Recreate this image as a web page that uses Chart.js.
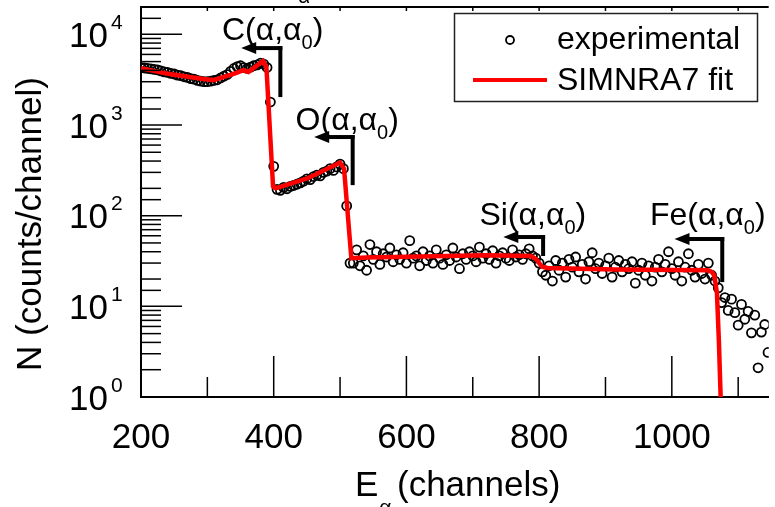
<!DOCTYPE html>
<html>
<head>
<meta charset="utf-8">
<script src="https://cdn.jsdelivr.net/npm/chart.js@4.4.0/dist/chart.umd.min.js"></script>
<style>
  body { margin: 0; background: #fff; }
  #spectrum { display: block; }
</style>
</head>
<body>
<canvas id="spectrum" width="775" height="507"></canvas>
<script>
// RBS spectrum, experimental counts vs SIMNRA7 fit

// experimental points (channel, counts)
const expChannels = [
  200, 205, 210, 215, 220, 225, 230, 235, 240, 245,
  250, 255, 260, 265, 270, 275, 280, 285, 290, 295,
  300, 305, 310, 315, 320, 325, 330, 335, 340, 345,
  350, 355, 360, 365, 370, 375, 380, 385, 390, 395,
  400, 405, 410, 415, 420, 425, 430, 435, 440, 445,
  450, 455, 460, 465, 470, 475, 480, 485, 490, 495,
  500, 505, 510, 515, 520, 525, 530, 535, 540, 545,
  550, 555, 560, 565, 570, 575, 580, 585, 590, 595,
  600, 605, 610, 615, 620, 625, 630, 635, 640, 645,
  650, 655, 660, 665, 670, 675, 680, 685, 690, 695,
  700, 705, 710, 715, 720, 725, 730, 735, 740, 745,
  750, 755, 760, 765, 770, 775, 780, 785, 790, 795,
  800, 805, 810, 815, 820, 825, 830, 835, 840, 845,
  850, 855, 860, 865, 870, 875, 880, 885, 890, 895,
  900, 905, 910, 915, 920, 925, 930, 935, 940, 945,
  950, 955, 960, 965, 970, 975, 980, 985, 990, 995,
  1000, 1005, 1010, 1015, 1020, 1025, 1030, 1035, 1040, 1045,
  1050, 1055, 1060, 1065, 1070, 1075, 1080, 1085, 1090, 1095,
  1100, 1105, 1110, 1115, 1120, 1125, 1130, 1135, 1140, 1145
];
const expCounts = [
  4300, 4250, 4200, 4150, 4100, 4050, 3950, 3850, 3800, 3700,
  3650, 3550, 3500, 3400, 3350, 3250, 3200, 3100, 3050, 3000,
  3000, 3050, 3100, 3150, 3300, 3450, 3600, 3900, 4200, 4400,
  4500, 4300, 4200, 4350, 4500, 4600, 4800, 4700, 4300, 1790,
  350, 195, 190, 205, 198, 210, 215, 222, 230, 240,
  255, 250, 270, 280, 275, 300, 310, 330, 315, 345,
  370, 330, 128, 30, 30, 42, 28, 36, 25, 48,
  33, 40, 29, 38, 35, 44, 31, 37, 33, 39,
  30, 53, 34, 36, 28, 40, 32, 36, 30, 42,
  34, 29, 37, 32, 44, 35, 26, 38, 33, 40,
  36, 31, 45, 34, 38, 33, 41, 30, 36, 39,
  34, 32, 42, 35, 37, 33, 38, 43, 36, 34,
  30, 24, 22, 28, 19, 32, 25, 30, 21, 33,
  27, 35, 24, 29, 20, 31, 39, 26, 30, 23,
  28, 34, 21, 27, 32, 24, 29, 26, 31, 18,
  25, 30, 22, 28, 19, 27, 33, 24, 29, 40,
  26, 22, 31, 19, 27, 38, 25, 21, 29, 23,
  20, 30, 22, 19, 16, 11, 12.5, 9, 12, 8.5,
  6.2, 10.5, 7.2, 8.8, 5.1, 8, 2.1, 5.2, 6.3, 3.1
];

// simulated spectrum
const fitChannels = [200, 243, 294, 309, 343, 354, 362, 384, 389, 399, 403, 452, 500, 506, 517, 540, 720, 788, 796, 804, 812, 915, 1054, 1060, 1064, 1068, 1071, 1074];
const fitCounts = [4240, 3640, 3210, 3125, 3735, 4030, 3850, 5070, 4350, 210, 200, 260, 385, 330, 34, 34.5, 36.5, 36, 33, 27.5, 26.5, 25.5, 25, 24, 22, 14, 4, 0.8];

const xTickLabels = ['200', '400', '600', '800', '1000'];
const yDecades = [1, 10, 100, 1000, 10000];

// surface edges: element, edge channel, arrow tip channel, arrow top/bottom counts, label anchor
const edges = [
  { el: 'C',  ch: 410,  tip: 351,  top: 7045, bottom: 2030, labelCh: 322, labelN: 10850 },
  { el: 'O',  ch: 519,  tip: 461,  top: 736,  bottom: 217,  labelCh: 433, labelN: 1104 },
  { el: 'Si', ch: 806,  tip: 746,  top: 58.1, bottom: 35.9, labelCh: 710, labelN: 99 },
  { el: 'Fe', ch: 1076, tip: 1004, top: 55.2, bottom: 18.5, labelCh: 967, labelN: 99 }
];

const FONT = '"Liberation Sans", Arial, sans-serif';

function seg(ctx, x1, y1, x2, y2) {
  ctx.beginPath();
  ctx.moveTo(x1, y1);
  ctx.lineTo(x2, y2);
  ctx.stroke();
}

const extras = {
  id: 'extras',
  afterDraw(chart) {
    const { ctx, chartArea: a, scales: { x, y } } = chart;
    ctx.save();
    ctx.strokeStyle = '#000';
    ctx.fillStyle = '#000';

    // top frame line
    ctx.lineWidth = 2;
    seg(ctx, a.left, a.top, a.right, a.top);

    // x ticks, inside
    ctx.lineWidth = 1.5;
    for (let v = 200; v <= 1100; v += 100) {
      const px = x.getPixelForValue(v);
      const len = v % 200 === 0 ? 41 : 20;
      seg(ctx, px, a.bottom, px, a.bottom - len);
      seg(ctx, px, a.top, px, a.top + 4);
    }

    // y ticks, inside
    y.ticks.forEach(t => {
      const py = y.getPixelForValue(t.value);
      if (py < a.top + 1) return;
      const major = yDecades.includes(t.value);
      seg(ctx, a.left, py, a.left + (major ? 41 : 20), py);
    });

    // y labels 10^n
    yDecades.forEach(v => {
      const py = y.getPixelForValue(v);
      ctx.textBaseline = 'middle';
      ctx.textAlign = 'right';
      ctx.font = '35px ' + FONT;
      ctx.fillText('10', 108, py + 3);
      ctx.textAlign = 'left';
      ctx.font = '21px ' + FONT;
      ctx.fillText(String(Math.round(Math.log10(v))), 111, py - 11);
    });

    // axis titles
    ctx.save();
    ctx.translate(31, 224);
    ctx.rotate(-Math.PI / 2);
    ctx.textAlign = 'center';
    ctx.textBaseline = 'middle';
    ctx.font = '35px ' + FONT;
    ctx.fillText('N (counts/channel)', 0, 0);
    ctx.restore();

    ctx.textAlign = 'left';
    ctx.textBaseline = 'middle';
    ctx.font = '35px ' + FONT;
    ctx.fillText('E', 355, 486);
    const w = ctx.measureText('E').width;
    ctx.font = '21px ' + FONT;
    ctx.fillText('\u03b1', 355 + w + 1, 508);
    ctx.fillText('\u03b1', 298, -3);
    ctx.font = '35px ' + FONT;
    ctx.fillText('(channels)', 397, 486);

    // edge markers
    edges.forEach(e => {
      const vx = x.getPixelForValue(e.ch);
      const ty = y.getPixelForValue(e.top);
      const by = y.getPixelForValue(e.bottom);
      const tx = x.getPixelForValue(e.tip);
      ctx.lineWidth = 4;
      seg(ctx, vx, ty - 2, vx, by);
      seg(ctx, vx + 2, ty, tx + 12, ty);
      ctx.beginPath();
      ctx.moveTo(tx, ty);
      ctx.lineTo(tx + 15, ty - 6);
      ctx.lineTo(tx + 15, ty + 6);
      ctx.closePath();
      ctx.fill();

      let lx = x.getPixelForValue(e.labelCh);
      const ly = y.getPixelForValue(e.labelN);
      ctx.textAlign = 'left';
      ctx.textBaseline = 'middle';
      ctx.font = '32px ' + FONT;
      const head = e.el + '(\u03b1,\u03b1';
      ctx.fillText(head, lx, ly);
      lx += ctx.measureText(head).width;
      ctx.font = '20px ' + FONT;
      ctx.fillText('0', lx, ly + 12);
      lx += ctx.measureText('0').width;
      ctx.font = '32px ' + FONT;
      ctx.fillText(')', lx, ly);
    });

    // legend box
    ctx.lineWidth = 1.5;
    ctx.strokeStyle = '#222';
    ctx.strokeRect(454.5, 13.5, 303, 88);
    ctx.strokeStyle = '#000';
    ctx.lineWidth = 1.8;
    ctx.beginPath();
    ctx.arc(510, 40, 4, 0, Math.PI * 2);
    ctx.stroke();
    ctx.strokeStyle = '#ff0000';
    ctx.lineWidth = 4;
    seg(ctx, 473, 80, 547, 80);
    ctx.font = '32px ' + FONT;
    ctx.textBaseline = 'middle';
    ctx.fillText('experimental', 557, 40);
    ctx.fillText('SIMNRA7 fit', 557, 81);

    ctx.restore();
  }
};

new Chart(document.getElementById('spectrum'), {
  type: 'scatter',
  data: {
    datasets: [{
      label: 'SIMNRA7 fit',
      type: 'line',
      data: fitChannels.map((c, i) => ({ x: c, y: fitCounts[i] })),
      borderColor: '#ff0000',
      borderWidth: 4.5,
      pointRadius: 0,
      tension: 0,
      fill: false,
      order: 0
    }, {
      label: 'experimental',
      data: expChannels.map((c, i) => ({ x: c, y: expCounts[i] })),
      pointRadius: 4.5,
      pointBorderWidth: 1.8,
      borderColor: '#000',
      backgroundColor: 'rgba(0,0,0,0)',
      order: 1
    }]
  },
  options: {
    responsive: false,
    animation: false,
    layout: { padding: { top: 7, right: 0, left: 0, bottom: 0 } },
    plugins: { legend: { display: false }, tooltip: { enabled: false } },
    scales: {
      x: {
        type: 'linear',
        min: 200,
        max: 1146,
        afterBuildTicks: s => { s.ticks = xTickLabels.map(l => ({ value: Number(l) })); },
        afterFit: s => { s.height = 110; },
        grid: { display: false, drawTicks: false },
        border: { display: true, color: '#000', width: 2 },
        ticks: {
          color: '#000', padding: 20, maxRotation: 0, autoSkip: false,
          font: { family: FONT, size: 35 },
          callback: v => String(v)
        }
      },
      y: {
        type: 'logarithmic',
        min: 1,
        max: 20000,
        afterFit: s => { s.width = 141; },
        grid: { display: false, drawTicks: false },
        border: { display: true, color: '#000', width: 2 },
        ticks: { display: false }
      }
    }
  },
  plugins: [extras]
});
</script>
</body>
</html>
